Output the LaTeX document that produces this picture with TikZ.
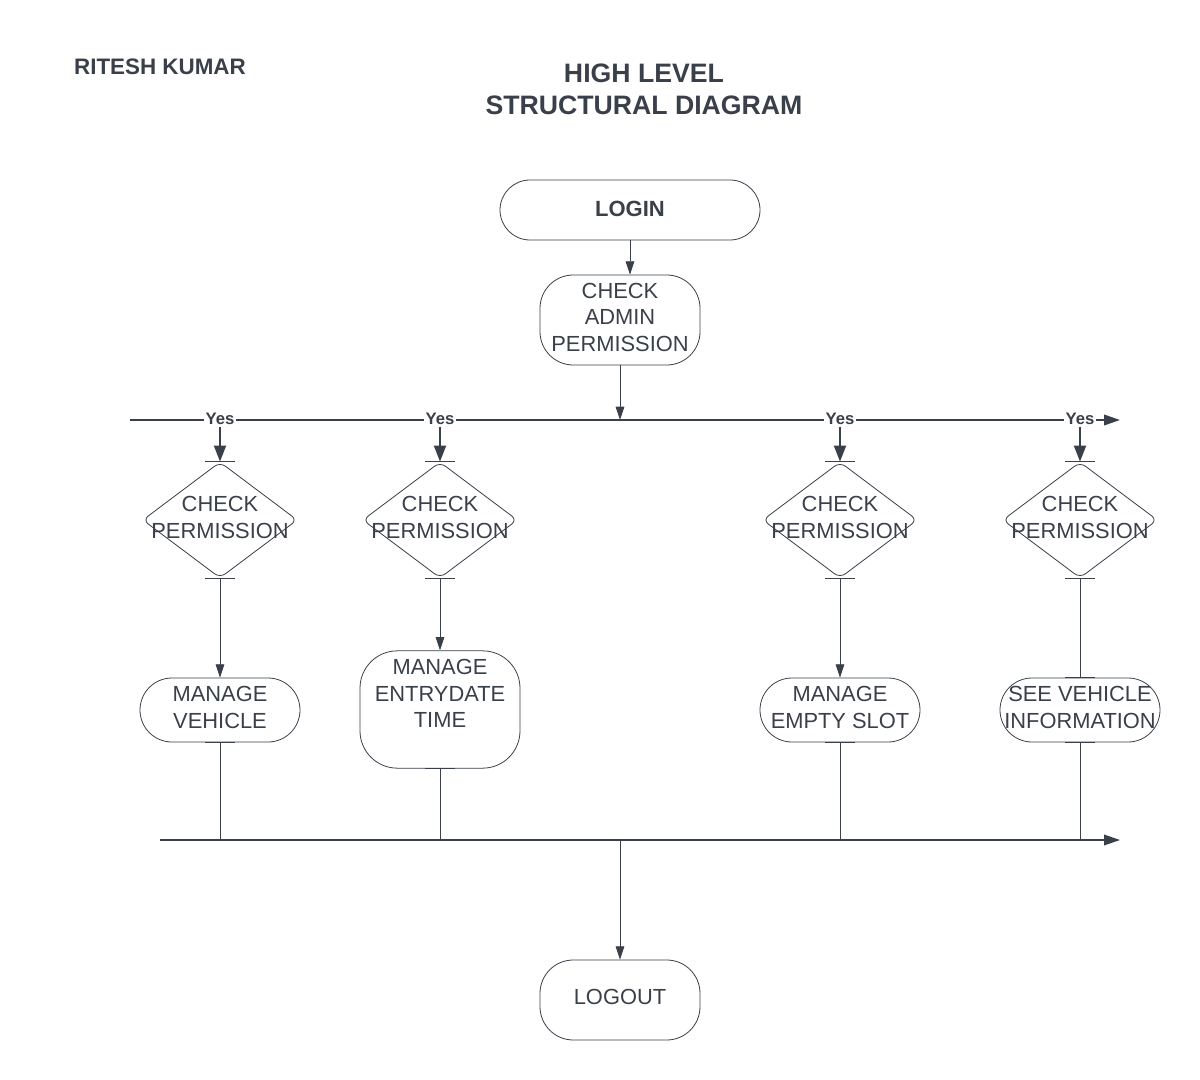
\documentclass[tikz,border=0pt]{standalone}
\usepackage{fontspec}
\setmainfont{Liberation Sans}
\usetikzlibrary{arrows.meta}
\usetikzlibrary{shapes.geometric}

\definecolor{ink}{RGB}{58,64,73}
% short bar across a line end
\newcommand{\tbar}[1]{\draw[ink,line width=1.1pt] ([xshift=-11pt]#1) -- ([xshift=11pt]#1);}

\begin{document}
\begin{tikzpicture}[x=0.75pt,y=0.75pt,yscale=-1,xscale=1,
  every node/.style={text=ink},
  txt/.style={font=\fontsize{16.4}{20}\selectfont,align=center},
  pill/.style={draw=ink,line width=0.6pt,minimum width=120pt,minimum height=48pt,rounded corners=24pt,inner sep=0pt},
  dia/.style={draw=ink,line width=0.6pt,diamond,minimum width=116pt,minimum height=87pt,inner sep=0pt,rounded corners=5pt},
  yes/.style={font=\bfseries\fontsize{12.5}{14}\selectfont,fill=white,inner sep=1.5pt},
  flow/.style={draw=ink,line width=0.7pt,-{Triangle[length=10pt,width=6.5pt]}},
  yesflow/.style={draw=ink,line width=1.5pt,-{Triangle[length=12pt,width=9pt]}},
  link/.style={draw=ink,line width=0.7pt}]
\useasboundingbox (0,0) rectangle (1200,1080);

% Headings
\node[font=\bfseries\fontsize{16.8}{19}\selectfont] (author) at (160,67) {RITESH KUMAR};
\node[font=\bfseries\fontsize{20}{24}\selectfont,align=center] (title) at (644,89) {HIGH LEVEL\\STRUCTURAL DIAGRAM};

% Start and admin check
\node[pill,minimum width=195pt,minimum height=45pt,rounded corners=22.5pt,
  label={[font=\bfseries\fontsize{16.5}{20}\selectfont,yshift=1pt]center:LOGIN}] (login) at (630,210) {};
\node[pill,minimum height=67.5pt,rounded corners=25pt,
  label={[txt,yshift=2pt]center:CHECK\\ADMIN\\PERMISSION}] (admin) at (620,320) {};

% Branch lines
\coordinate (tl) at (130,420);
\coordinate (tr) at (1120,420);
\coordinate (bl) at (160,840);
\coordinate (br) at (1120,840);
\draw[ink,line width=1.3pt,-{Triangle[length=12pt,width=8pt]}] (tl) -- (tr);
\draw[ink,line width=1pt,-{Triangle[length=12pt,width=8pt]}] (bl) -- (br);

% Permission checks
\node[dia,label={[txt,yshift=2pt]center:CHECK\\PERMISSION}] (chk1) at (220,520) {};
\node[dia,label={[txt,yshift=2pt]center:CHECK\\PERMISSION}] (chk2) at (440,520) {};
\node[dia,label={[txt,yshift=2pt]center:CHECK\\PERMISSION}] (chk3) at (840,520) {};
\node[dia,label={[txt,yshift=2pt]center:CHECK\\PERMISSION}] (chk4) at (1080,520) {};

% Yes labels
\node[yes] (yes1) at (220,419) {Yes};
\node[yes] (yes2) at (440,419) {Yes};
\node[yes] (yes3) at (840,419) {Yes};
\node[yes] (yes4) at (1080,419) {Yes};

% Tasks
\node[pill,label={[txt,yshift=2pt]center:MANAGE\\VEHICLE}] (vehicle) at (220,710) {};
\node[pill,minimum height=88pt,rounded corners=28pt,
  label={[txt,yshift=12pt]center:MANAGE\\ENTRYDATE\\TIME}] (entry) at (440,709.5) {};
\node[pill,label={[txt,yshift=2pt]center:MANAGE\\EMPTY SLOT}] (slot) at (840,710) {};
\node[pill,label={[txt,yshift=2pt]center:SEE VEHICLE\\INFORMATION}] (info) at (1080,710) {};

% End
\node[pill,minimum height=60pt,rounded corners=25pt,
  label={[txt,yshift=2pt]center:LOGOUT}] (logout) at (620,1000) {};

% Joins on the lower line
\coordinate (j1) at (vehicle.south |- bl);
\coordinate (j2) at (entry.south |- bl);
\coordinate (j3) at (slot.south |- bl);
\coordinate (j4) at (info.south |- bl);

% Connectors
\draw[flow] (login.south) -- (login.south |- admin.north);
\draw[flow] (admin.south) -- (admin.south |- tl);
\draw[yesflow] (yes1) -- (chk1.north);
\draw[yesflow] (yes2) -- (chk2.north);
\draw[yesflow] (yes3) -- (chk3.north);
\draw[yesflow] (yes4) -- (chk4.north);
\draw[flow] (chk1.south) -- (vehicle.north);
\draw[flow] (chk2.south) -- (entry.north);
\draw[flow] (chk3.south) -- (slot.north);
\draw[link] (chk4.south) -- (info.north);
\draw[link] (vehicle.south) -- (j1);
\draw[link] (entry.south) -- (j2);
\draw[link] (slot.south) -- (j3);
\draw[link] (info.south) -- (j4);
\draw[flow] (logout.north |- bl) -- (logout.north);

% Bars
\tbar{chk1.north} \tbar{chk2.north} \tbar{chk3.north} \tbar{chk4.north}
\tbar{chk1.south} \tbar{chk2.south} \tbar{chk3.south} \tbar{chk4.south}
\tbar{info.north}
\tbar{vehicle.south} \tbar{entry.south} \tbar{slot.south} \tbar{info.south}
\tbar{j1} \tbar{j2} \tbar{j3} \tbar{j4}
\end{tikzpicture}
\end{document}
